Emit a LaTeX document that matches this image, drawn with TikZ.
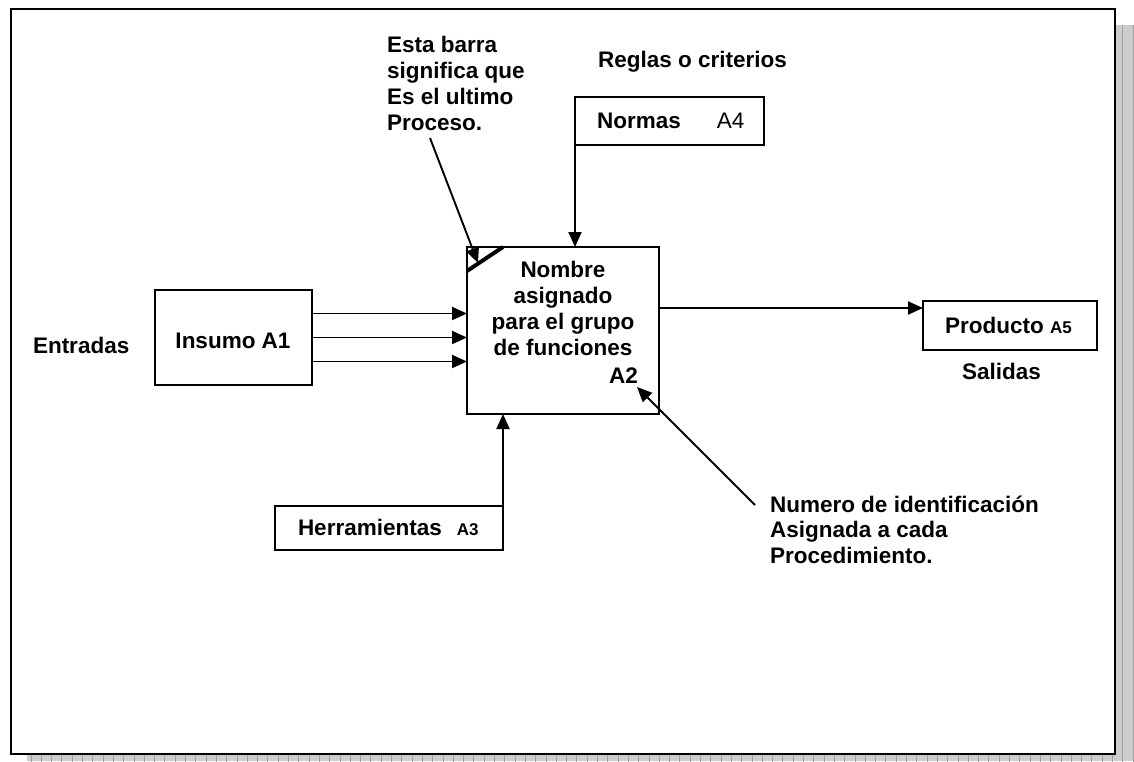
\documentclass[tikz,border=0pt]{standalone}
\usepackage{fontspec}
\setmainfont{Liberation Sans}
\usetikzlibrary{arrows.meta,calc}

\begin{document}
\begin{tikzpicture}[x=1pt,y=-1pt,
  every node/.style={inner sep=0pt,outer sep=0pt},
  lbl/.style={font=\fontsize{22.5}{25.7}\selectfont\bfseries},
  box/.style={draw,line width=2pt,rectangle,minimum width=#1},
  arr/.style={line width=1.9pt,-{Triangle[length=15pt,width=13pt]}},
  note/.style={line width=1.9pt,-{Triangle[length=15pt,width=13pt]}}]

\useasboundingbox (0,0) rectangle (1134,761);

% page shadow with a fine grid texture
\begin{scope}
  \clip (27,25) rectangle (1134,761);
  \fill[black!20] (27,25) rectangle (1134,761);
  \draw[black!38,line width=0.7pt,step=10.3] (20,20) grid (1140,770);
\end{scope}
% page frame
\fill[white] (11,9) rectangle (1115,754);
\draw[line width=2.8pt] (11,9) rectangle (1115,754);

% boxes
\node[box=192pt,minimum height=167pt] (main) at (563,330.5) {};
\node[box=157pt,minimum height=95pt] (insumo) at (233.5,337.5) {};
\node[box=189pt,minimum height=48pt] (normas) at (669.5,121) {};
\node[box=228pt,minimum height=44pt] (herr) at (389,528) {};
\node[box=174pt,minimum height=49pt] (producto) at (1010,325.5) {};

% texts
\node[lbl,anchor=base west] (reglas) at (598,67) {Reglas o criterios};
\node[lbl,anchor=north west,align=left] (esta) at (387,36.6)
  {Esta barra\\significa que\\Es el ultimo\\Proceso.};
\node[lbl,anchor=base west] (entradas) at (33,353) {Entradas};
\node[lbl,anchor=base] (insumotxt) at (233,348) {Insumo A1};
\node[lbl,anchor=north,align=center] (maintxt) at (563,261.6)
  {Nombre\\asignado\\para el grupo\\de funciones};
\node[lbl,anchor=base east] (a2) at (638,383) {A2};
\node[lbl,anchor=base west] (normastxt) at (597,128)
  {Normas\hspace{36pt}{\mdseries A4}};
\node[lbl,anchor=base west] (herrtxt) at (298,535)
  {Herramientas\hspace{15pt}{\fontsize{17}{20}\selectfont A3}};
\node[lbl,anchor=base west] (productotxt) at (945,333)
  {Producto {\fontsize{17}{20}\selectfont A5}};
\node[lbl,anchor=base west] (salidas) at (962,379) {Salidas};
\node[lbl,anchor=north west,align=left] (numero) at (770,495.6)
  {Numero de identificación\\Asignada a cada\\Procedimiento.};

% connectors
\draw[arr] (normas.south west) -- (main.north -| normas.south west);
\draw[arr] (herr.north east) -- (main.south -| herr.north east);
\foreach \dy in {-24,0,24}
  \draw[arr] ($(insumo.east)+(0,\dy)$) -- (main.west |- {$(insumo.east)+(0,\dy)$});
\coordinate (pout) at (659,308);
\draw[arr] (main.east |- pout) -- (producto.west |- pout);

% last-process bar in the corner of the main box
\draw[line width=4pt] ($(main.north west)+(0,24)$) -- ($(main.north west)+(36,0)$);

% annotation arrows
\coordinate (estatail) at (430,138);
\coordinate (estatip) at (478,263);
\draw[note] (estatail) -- (estatip);
\coordinate (numtail) at (755,505);
\coordinate (numtip) at (637,387);
\draw[note] (numtail) -- (numtip);
\end{tikzpicture}
\end{document}
